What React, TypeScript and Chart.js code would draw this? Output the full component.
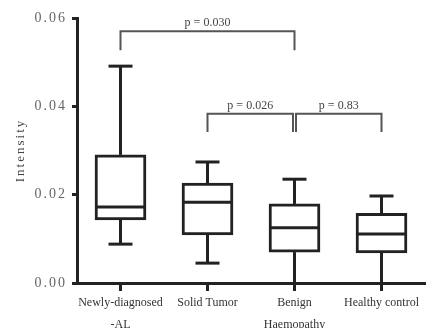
import React, { useEffect, useRef } from 'react';
import { Chart, registerables } from 'chart.js';

Chart.register(...registerables);

// ---- data ----
const categories: (string | string[])[] = [
  ['Newly-diagnosed', '-AL'],
  'Solid Tumor',
  ['Benign', 'Haemopathy'],
  'Healthy control',
];
const minValues = [0.0088, 0.0045, 0.0, 0.0];
const q1Values = [0.0143, 0.0109, 0.007, 0.0068];
const medianValues = [0.0172, 0.0183, 0.0125, 0.0111];
const q3Values = [0.029, 0.0226, 0.0179, 0.0158];
const maxValues = [0.0491, 0.0274, 0.0235, 0.0197];
const yTicks = [0, 0.02, 0.04, 0.06];

// significance brackets
const pFrom = [0, 1, 2];
const pTo = [2, 2, 3];
const pLabels = ['p = 0.030', 'p = 0.026', 'p = 0.83'];
const pTop = [0.057, 0.0383, 0.0383];
const pLeg = [0.0527, 0.0342, 0.0342];

const FONT = '"Liberation Serif", "Times New Roman", serif';

const boxPlugin = {
  id: 'boxExtras',
  beforeDraw(chart: any) {
    (chart.ctx as any).letterSpacing = '2px';
  },
  beforeDatasetsDraw(chart: any) {
    (chart.ctx as any).letterSpacing = '0px';
  },
  afterDatasetsDraw(chart: any) {
    const ctx: CanvasRenderingContext2D = chart.ctx;
    const x = chart.scales.x;
    const y = chart.scales.y;
    const meta = chart.getDatasetMeta(0);
    ctx.save();
    (ctx as any).letterSpacing = '0px';
    const line = (x1: number, y1: number, x2: number, y2: number) => {
      ctx.beginPath();
      ctx.moveTo(x1, y1);
      ctx.lineTo(x2, y2);
      ctx.stroke();
    };
    ctx.strokeStyle = '#222';
    ctx.lineWidth = 3;
    ctx.lineCap = 'butt';
    meta.data.forEach((bar: any, i: number) => {
      const cx = x.getPixelForValue(i);
      const half = bar.width / 2;
      const cap = 12;
      const yMin = y.getPixelForValue(minValues[i]);
      const yQ1 = y.getPixelForValue(q1Values[i]);
      const yMed = y.getPixelForValue(medianValues[i]);
      const yQ3 = y.getPixelForValue(q3Values[i]);
      const yMax = y.getPixelForValue(maxValues[i]);
      line(cx, yQ3, cx, yMax);
      line(cx - cap, yMax, cx + cap, yMax);
      line(cx, yQ1, cx, yMin);
      if (minValues[i] > 0) line(cx - cap, yMin, cx + cap, yMin);
      line(cx - half, yMed, cx + half, yMed);
    });

    // brackets
    ctx.strokeStyle = '#555';
    ctx.lineWidth = 2;
    ctx.fillStyle = '#444';
    ctx.font = `12px ${FONT}`;
    ctx.textAlign = 'center';
    ctx.textBaseline = 'alphabetic';
    for (let k = 0; k < pLabels.length; k++) {
      let x1 = x.getPixelForValue(pFrom[k]);
      let x2 = x.getPixelForValue(pTo[k]);
      // separate brackets sharing an end point
      for (let j = 0; j < pLabels.length; j++) {
        if (j === k || pTop[j] !== pTop[k]) continue;
        if (pTo[k] === pFrom[j]) x2 -= 1.5;
        if (pFrom[k] === pTo[j]) x1 += 1.5;
      }
      const yt = y.getPixelForValue(pTop[k]);
      const yl = y.getPixelForValue(pLeg[k]);
      ctx.beginPath();
      ctx.moveTo(x1, yl);
      ctx.lineTo(x1, yt);
      ctx.lineTo(x2, yt);
      ctx.lineTo(x2, yl);
      ctx.stroke();
      ctx.fillText(pLabels[k], (x1 + x2) / 2, yt - 5);
    }
    ctx.restore();
  },
};

export default function App() {
  const canvasRef = useRef<HTMLCanvasElement | null>(null);

  useEffect(() => {
    const canvas = canvasRef.current;
    if (!canvas) return;
    const chart = new Chart(canvas, {
      type: 'bar',
      data: {
        labels: categories as any,
        datasets: [
          {
            data: q1Values.map((q1, i) => [q1, q3Values[i]]) as any,
            backgroundColor: '#ffffff',
            borderColor: '#222',
            borderWidth: 3,
            borderSkipped: false,
            barThickness: 51,
          },
        ],
      },
      options: {
        responsive: false,
        animation: false,
        layout: { padding: { top: 18, right: 2, left: 0, bottom: 0 } },
        plugins: {
          legend: { display: false },
          tooltip: { enabled: false },
        },
        scales: {
          x: {
            afterFit: (s: any) => {
              s.height = 45;
            },
            grid: {
              display: true,
              drawOnChartArea: false,
              drawTicks: true,
              tickLength: 8,
              tickWidth: 3,
              tickColor: '#222',
              offset: false,
            },
            border: { display: true, width: 3, color: '#222' },
            ticks: {
              z: 1,
              padding: 0,
              color: '#333',
              maxRotation: 0,
              autoSkip: false,
              font: { family: FONT, size: 12, lineHeight: 1.9 },
            },
          },
          y: {
            min: 0,
            max: 0.06,
            afterFit: (s: any) => {
              s.width = 77;
            },
            afterBuildTicks: (s: any) => {
              s.ticks = yTicks.map((v) => ({ value: v }));
            },
            grid: {
              display: true,
              drawOnChartArea: false,
              drawTicks: true,
              tickLength: 5,
              tickWidth: 3,
              tickColor: '#222',
            },
            border: { display: true, width: 3, color: '#222' },
            ticks: {
              padding: 5,
              color: '#666',
              font: { family: FONT, size: 14 },
              callback: (v: any) => Number(v).toFixed(2),
            },
            title: {
              display: true,
              text: 'Intensity',
              color: '#444',
              font: { family: FONT, size: 13 },
              padding: { top: 13, bottom: 0 },
            },
          },
        },
      },
      plugins: [boxPlugin],
    } as any);
    return () => chart.destroy();
  }, []);

  return (
    <div style={{ position: 'absolute', left: 0, top: 0, width: 427, height: 328, background: '#fff' }}>
      <canvas ref={canvasRef} width={427} height={328} style={{ display: 'block' }} />
    </div>
  );
}
